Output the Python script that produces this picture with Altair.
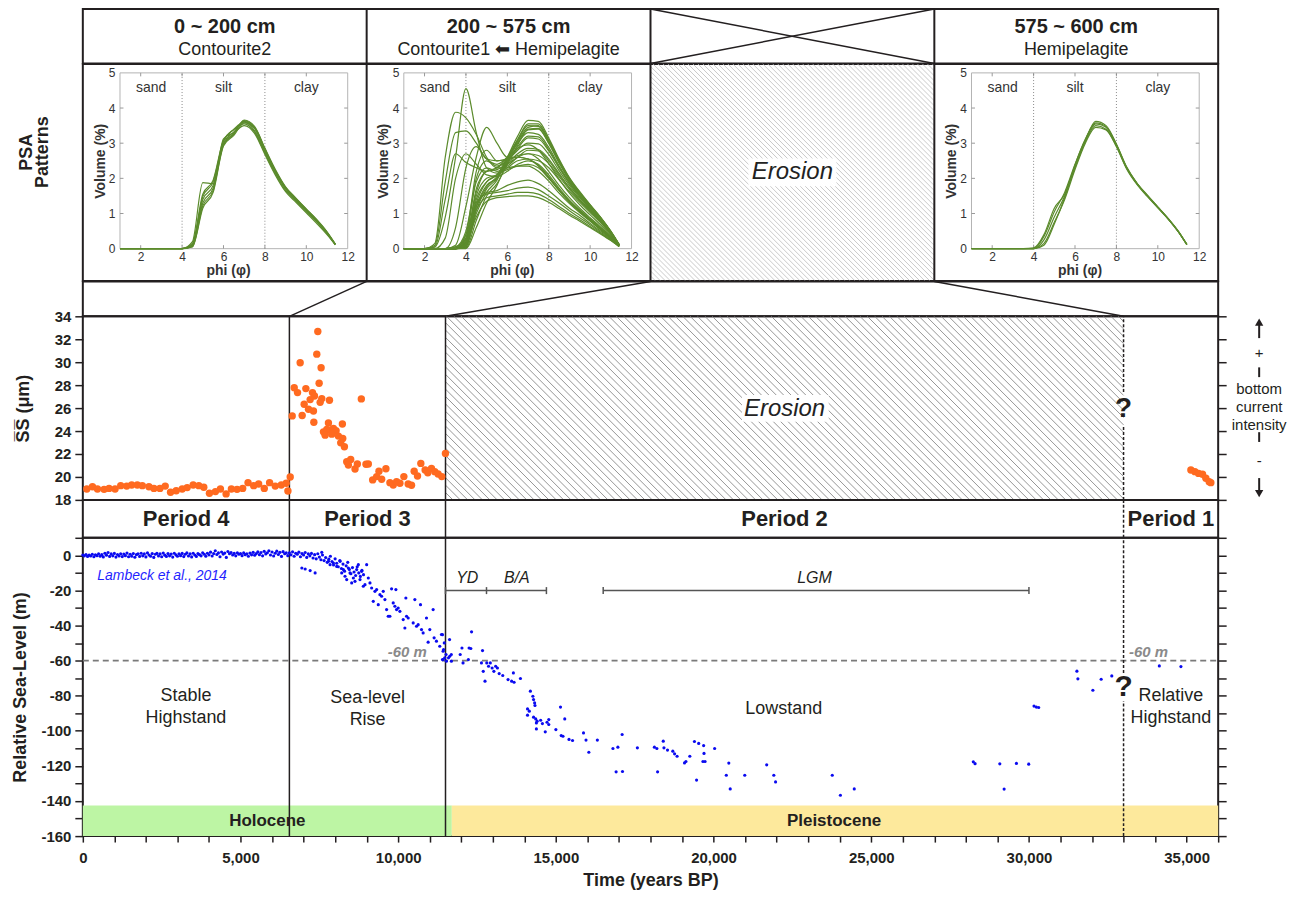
import altair as alt
import pandas as pd

FONT = "Liberation Sans"
INK = "#231f20"
GREY = "#333333"
GREEN = "#5b8b2c"
ORANGE = "#ff6a20"
BLUE = "#0a0af0"
HOLO = "#bdf5a4"
PLEI = "#fde99c"

# ---------------- layout (px) ----------------
W = 1138.0
COL_W = W / 4
H_HEAD, H_CELL, H_STRIP, H_MID, H_PER, H_BOT = 54.5, 217.5, 35.0, 184.0, 38.0, 299.0
T_DOMAIN = [0, 36000]
SS_DOMAIN = [18, 34]
RSL_DOMAIN = [-160, 10]

# PSA plot box inside one top cell (px from the cell's left / top)
P_L, P_R, P_T, P_B = 37.25, 265.5, 9.0, 185.2
PHI_RANGE = [1, 12]
VOL_RANGE = [0, 5]
KX = (P_R - P_L) / (PHI_RANGE[1] - PHI_RANGE[0])
KY = (P_B - P_T) / (VOL_RANGE[1] - VOL_RANGE[0])
PHI_DOM = [PHI_RANGE[0] - P_L / KX, PHI_RANGE[1] + (COL_W - P_R) / KX]
SPAN = COL_W / KX
VOL_DOM = [VOL_RANGE[0] - (H_CELL - P_B) / KY, VOL_RANGE[1] + P_T / KY]

# ---------------- header texts ----------------
HEAD_COL = [0.5, 1.5, 3.5]
HEAD_DEPTH = ["0 ~ 200 cm", "200 ~ 575 cm", "575 ~ 600 cm"]
HEAD_FACIES = ["Contourite2", "Contourite1 \u2B05 Hemipelagite", "Hemipelagite"]

# ---------------- PSA curves ----------------
PHI = [1.0, 2.0, 2.5, 3.0, 3.5, 4.0, 4.5, 5.0, 5.5, 6.0, 6.5, 7.0, 7.5, 8.0, 8.5, 9.0, 9.5, 10.0, 10.5, 11.0, 11.4]
PHI_TICKS = [2, 4, 6, 8, 10, 12]
VOL_TICKS = [0, 1, 2, 3, 4, 5]
CLASS_BOUNDS = [4, 8]
CLASS_NAMES = ["sand", "silt", "clay"]
CLASS_POS = [2.5, 6, 10]
CLASS_LEVEL = 4.57

Z6 = [0, 0, 0, 0, 0, 0]
Z5 = [0, 0, 0, 0, 0]
PSA_0_200 = [
    Z6 + [0.10, 1.40, 1.80, 3.00, 3.32, 3.62, 3.42, 2.80, 2.20, 1.72, 1.40, 1.10, 0.80, 0.46, 0.12],
    Z6 + [0.15, 1.55, 1.95, 3.08, 3.38, 3.55, 3.32, 2.72, 2.14, 1.66, 1.35, 1.05, 0.76, 0.43, 0.12],
    Z6 + [0.06, 1.22, 1.65, 2.95, 3.26, 3.66, 3.48, 2.86, 2.26, 1.76, 1.44, 1.13, 0.83, 0.48, 0.13],
    Z6 + [0.20, 1.88, 1.85, 3.12, 3.30, 3.50, 3.28, 2.68, 2.10, 1.62, 1.32, 1.02, 0.72, 0.40, 0.11],
    Z6 + [0.05, 1.15, 1.60, 2.92, 3.22, 3.58, 3.44, 2.84, 2.22, 1.74, 1.42, 1.12, 0.82, 0.46, 0.12],
    Z6 + [0.12, 1.48, 1.90, 3.05, 3.40, 3.60, 3.36, 2.76, 2.18, 1.70, 1.38, 1.08, 0.78, 0.44, 0.12],
    Z6 + [0.08, 1.30, 1.72, 2.98, 3.28, 3.64, 3.45, 2.82, 2.23, 1.73, 1.41, 1.11, 0.81, 0.47, 0.13],
]
PSA_200_575 = [
    [0, 0, 0.05, 0.9, 2.6, 4.55, 3.3, 2.3, 2.15, 2.25, 2.35, 2.4, 2.3, 2.0, 1.65, 1.32, 1.05, 0.8, 0.55, 0.3, 0.07],
    [0, 0, 0.15, 2.6, 3.88, 3.72, 3.25, 2.6, 2.3, 2.3, 2.35, 2.35, 2.2, 1.92, 1.58, 1.28, 1.02, 0.78, 0.54, 0.3, 0.07],
    [0, 0, 0.1, 1.9, 3.3, 3.35, 3.0, 2.55, 2.5, 2.55, 2.6, 2.55, 2.35, 2.02, 1.66, 1.34, 1.07, 0.82, 0.57, 0.32, 0.08],
    [0, 0, 0.05, 1.4, 2.7, 2.45, 2.3, 2.2, 2.3, 2.5, 2.65, 2.7, 2.55, 2.2, 1.8, 1.45, 1.15, 0.88, 0.62, 0.34, 0.08],
    [0, 0, 0, 0, 0.6, 2.3, 2.9, 2.55, 2.4, 2.6, 2.85, 2.95, 2.8, 2.42, 1.98, 1.58, 1.25, 0.96, 0.68, 0.37, 0.09],
    [0, 0, 0, 0, 0.1, 1.2, 2.6, 3.45, 3.0, 2.6, 2.6, 2.55, 2.38, 2.05, 1.68, 1.36, 1.08, 0.83, 0.58, 0.32, 0.08],
    [0, 0, 0, 0.3, 2.0, 2.7, 2.4, 2.1, 2.05, 2.2, 2.4, 2.5, 2.4, 2.1, 1.72, 1.38, 1.1, 0.85, 0.6, 0.33, 0.08],
    [0, 0, 0, 0, 0.05, 0.3, 1.2, 1.6, 1.65, 1.8, 1.9, 1.95, 1.85, 1.65, 1.4, 1.15, 0.95, 0.72, 0.5, 0.28, 0.07],
    [0, 0, 0, 0, 0.02, 0.4, 1.3, 1.55, 1.6, 1.65, 1.72, 1.75, 1.68, 1.5, 1.3, 1.08, 0.88, 0.68, 0.47, 0.26, 0.06],
    [0, 0, 0, 0, 0, 0.2, 1.1, 1.45, 1.5, 1.55, 1.6, 1.6, 1.55, 1.4, 1.2, 1.0, 0.82, 0.63, 0.44, 0.24, 0.06],
    [0, 0, 0, 0, 0, 0.15, 0.9, 1.35, 1.45, 1.48, 1.5, 1.5, 1.45, 1.32, 1.14, 0.95, 0.78, 0.6, 0.42, 0.23, 0.06],
    [0, 0, 0, 0, 0, 0.05, 1.1, 1.7, 2.0, 2.6, 3.2, 3.65, 3.62, 3.15, 2.55, 2.02, 1.62, 1.25, 0.9, 0.5, 0.12],
    [0, 0, 0, 0, 0, 0.1, 1.4, 1.9, 2.1, 2.6, 3.1, 3.5, 3.48, 3.05, 2.48, 1.98, 1.58, 1.22, 0.88, 0.48, 0.11],
    [0, 0, 0, 0, 0, 0.02, 0.8, 1.5, 1.85, 2.4, 2.95, 3.4, 3.42, 3.0, 2.45, 1.95, 1.56, 1.2, 0.86, 0.47, 0.11],
    [0, 0, 0, 0, 0, 0.2, 1.7, 2.2, 2.3, 2.6, 3.0, 3.3, 3.25, 2.88, 2.36, 1.9, 1.52, 1.17, 0.84, 0.46, 0.11],
    [0, 0, 0, 0, 0, 0.05, 1.2, 1.8, 2.0, 2.45, 2.85, 3.15, 3.12, 2.78, 2.3, 1.85, 1.48, 1.14, 0.82, 0.45, 0.1],
    [0, 0, 0, 0, 0, 0.3, 2.0, 2.5, 2.35, 2.5, 2.8, 3.0, 2.98, 2.68, 2.22, 1.8, 1.45, 1.12, 0.8, 0.44, 0.1],
    [0, 0, 0, 0, 0, 0.1, 1.3, 1.9, 2.1, 2.4, 2.7, 2.85, 2.82, 2.55, 2.14, 1.74, 1.4, 1.09, 0.78, 0.43, 0.1],
    [0, 0, 0, 0, 0, 0.25, 1.6, 2.2, 2.25, 2.4, 2.6, 2.7, 2.65, 2.42, 2.05, 1.68, 1.36, 1.06, 0.76, 0.42, 0.1],
    [0, 0, 0, 0, 0, 0.15, 1.5, 2.0, 2.1, 2.3, 2.5, 2.55, 2.5, 2.3, 1.96, 1.62, 1.32, 1.03, 0.74, 0.41, 0.1],
    [0, 0, 0, 0, 0, 0.0, 0.6, 1.3, 1.8, 2.5, 3.1, 3.55, 3.55, 3.1, 2.52, 2.0, 1.6, 1.24, 0.89, 0.49, 0.12],
    [0, 0, 0, 0, 0, 0.4, 2.2, 2.8, 2.5, 2.55, 2.9, 3.2, 3.18, 2.82, 2.32, 1.88, 1.5, 1.16, 0.83, 0.46, 0.11],
    [0, 0, 0, 0, 0, 0.08, 1.0, 1.6, 1.95, 2.55, 3.05, 3.45, 3.5, 3.08, 2.5, 1.99, 1.59, 1.23, 0.88, 0.48, 0.11],
    [0, 0, 0, 0, 0.05, 0.5, 1.9, 2.3, 2.2, 2.35, 2.6, 2.8, 2.78, 2.5, 2.1, 1.72, 1.39, 1.08, 0.77, 0.43, 0.1],
    [0, 0, 0, 0, 0, 0.12, 1.2, 1.75, 2.05, 2.5, 3.0, 3.38, 3.4, 3.0, 2.44, 1.95, 1.56, 1.21, 0.87, 0.48, 0.11],
]
PSA_575_600 = [
    Z5 + [0, 0.35, 1.05, 1.60, 2.40, 3.10, 3.55, 3.45, 2.95, 2.30, 1.85, 1.50, 1.18, 0.85, 0.48, 0.12],
    Z5 + [0, 0.25, 0.90, 1.50, 2.30, 3.05, 3.50, 3.40, 2.92, 2.28, 1.84, 1.50, 1.18, 0.85, 0.48, 0.12],
    Z5 + [0, 0.15, 0.75, 1.40, 2.25, 3.00, 3.45, 3.38, 2.90, 2.26, 1.82, 1.48, 1.16, 0.84, 0.47, 0.12],
    Z5 + [0.02, 0.40, 1.15, 1.55, 2.35, 3.08, 3.62, 3.50, 2.98, 2.32, 1.86, 1.52, 1.19, 0.86, 0.49, 0.12],
    Z5 + [0, 0.10, 0.70, 1.45, 2.38, 3.12, 3.58, 3.47, 2.96, 2.30, 1.85, 1.50, 1.17, 0.85, 0.48, 0.12],
]

# ---------------- time axis annotations ----------------
PERIOD_EDGES = [6550, 11500, 33000]
PERIOD_NAMES = ["Period 4", "Period 3", "Period 2", "Period 1"]
PERIOD_CENTERS = [3275, 9025, 22250, 34500]
CELL_EDGES_T = [9000, 18000, 27000]

EPOCH_NAMES = ["Holocene", "Pleistocene"]
EPOCH_START = [0, 11700]
EPOCH_END = [11700, 36000]
EPOCH_COLORS = [HOLO, PLEI]
EPOCH_LABEL_T = [5850, 23820]
EPOCH_BAND = [-160, -142.5]

INT_NAMES = ["YD", "B/A", "LGM"]
INT_START = [11500, 12800, 16500]
INT_END = [12800, 14700, 30000]
INT_LABEL_T = [12190, 13760, 23200]
INT_LEVEL = -20.1
INT_LABEL_LEVEL = -12.9

LEVEL_REF = -60
LEVEL_LABEL_T = [10290, 33790]

STAGE_TEXT = ["Stable", "Highstand", "Sea-level", "Rise", "Lowstand", "Relative", "Highstand"]
STAGE_T = [3270, 3270, 9030, 9030, 22225, 34500, 34500]
STAGE_V = [-79.9, -92.8, -81.2, -94.0, -87.3, -79.9, -92.6]

# ---------------- sortable silt mean size (SS, um) ----------------
SS_PERIOD4 = [(126, 18.95), (306, 19.15), (464, 18.95), (674, 18.92), (832, 19.0), (1022, 18.95), (1201, 19.24),
              (1391, 19.2), (1549, 19.3), (1728, 19.3), (1887, 19.24), (2097, 19.15), (2255, 19.0), (2445, 19.0),
              (2613, 19.2), (2782, 18.66), (2961, 18.8), (3151, 18.95), (3309, 19.07), (3499, 19.3), (3678, 19.24),
              (3836, 19.1), (4015, 18.58), (4205, 18.72), (4363, 18.95), (4543, 18.52), (4711, 18.95), (4890, 18.92),
              (5069, 19.0), (5238, 19.5), (5417, 19.24), (5575, 19.38), (5754, 19.0), (5922, 19.5), (6102, 19.2),
              (6292, 19.3), (6450, 19.45), (6503, 18.78), (6576, 20.0)]
SS_PERIOD3 = [(7451, 32.67), (7419, 30.7), (6892, 29.95), (7556, 29.52), (7493, 28.16), (6703, 27.78), (6808, 27.35),
              (7072, 27.7), (7282, 27.35), (7345, 27.06), (7208, 26.74), (7577, 26.83), (7820, 26.68), (7525, 26.5),
              (7019, 26.33), (7156, 25.9), (7313, 25.75), (6639, 25.32), (6955, 25.35), (7325, 24.77), (7788, 24.71),
              (8230, 24.62), (7630, 23.93), (7736, 24.14), (7841, 24.08), (7946, 24.22), (8030, 24.02), (7683, 23.64),
              (7894, 23.73), (8104, 23.56), (8241, 23.35), (8178, 22.97), (8294, 22.63), (8831, 26.8), (8368, 21.33),
              (8494, 21.53), (8420, 21.04), (8631, 20.69), (8705, 21.13), (8979, 21.1), (9053, 21.13), (9190, 19.74),
              (9317, 20.03), (9390, 20.49), (9611, 20.72), (9475, 19.8), (9738, 19.5), (9843, 19.3), (9949, 19.59),
              (10054, 19.45), (10180, 20.03), (10317, 19.39), (10422, 19.27), (10507, 20.49), (10612, 20.08),
              (10718, 21.18), (10854, 20.6), (10939, 20.37), (11055, 20.75), (11160, 20.46), (11265, 20.26),
              (11382, 20.03), (11498, 22.05)]
SS_PERIOD1 = [(35135, 20.6), (35262, 20.46), (35378, 20.31), (35504, 20.23), (35610, 19.88), (35715, 19.59), (35768, 19.5)]
SS_TICKS = list(range(18, 35, 2))

# ---------------- relative sea level (Lambeck et al., 2014) ----------------
RSL_HOLOCENE = [(0, 0.2), (50, -0.3), (100, 0.5), (150, -0.6), (200, 0.1), (250, -0.4), (300, 0.6), (350, -0.8),
                (400, 0.3), (450, -0.2), (500, 0.9), (550, -0.5), (600, 0.4), (650, -0.9), (700, 1.2), (750, 0.1),
                (800, 1.6), (850, -0.6), (900, 0.8), (950, -0.3), (1000, 1.1), (1050, -1.0), (1100, 0.5), (1150, -0.4),
                (1200, 0.9), (1250, -0.7), (1300, 0.7), (1350, -0.2), (1400, 1.3), (1450, -0.8), (1500, 0.6),
                (1550, -0.5), (1600, 1.0), (1650, -1.1), (1700, 0.4), (1750, 0.9), (1800, -0.6), (1850, 1.2),
                (1900, -0.3), (1950, 0.8), (2000, -0.9), (2050, 1.4), (2100, 0.2), (2150, -0.5), (2200, 1.0),
                (2250, -1.2), (2300, 0.6), (2350, 1.1), (2400, -0.4), (2450, 0.8), (2500, -0.8), (2550, 1.3),
                (2600, 0.1), (2650, -0.6), (2700, 1.0), (2750, -0.3), (2800, 0.7), (2850, -1.0), (2900, 1.2),
                (2950, 0.3), (3000, -0.5), (3050, 0.9), (3100, -0.2), (3150, 1.1), (3200, -0.7), (3250, 0.6),
                (3300, 1.4), (3350, -0.4), (3400, 0.8), (3450, -0.9), (3500, 1.2), (3550, 0.2), (3600, -0.6),
                (3650, 1.0), (3700, 0.4), (3750, -0.3), (3800, 1.5), (3850, 0.6), (3900, -0.5), (3950, 1.2),
                (4000, 0.3), (4050, 1.8), (4100, -0.4), (4150, 1.0), (4200, 2.6), (4250, 0.5), (4300, 1.4),
                (4350, -0.8), (4400, 1.9), (4450, 0.7), (4500, 1.3), (4550, -1.2), (4600, 2.2), (4650, 0.9),
                (4700, 1.6), (4750, 0.2), (4800, 1.1), (4850, -0.3), (4900, 1.5), (4950, 0.6), (5000, 1.0),
                (5050, -0.2), (5100, 1.4), (5150, 0.4), (5200, 0.9), (5250, -0.5), (5300, 1.3), (5350, 0.3),
                (5400, 1.7), (5450, 0.1), (5500, 1.0), (5550, 2.0), (5600, 0.4), (5650, 1.6), (5700, -0.3),
                (5750, 2.3), (5800, 0.8), (5850, 1.5), (5900, 2.6), (5950, 0.2), (6000, 1.9), (6050, -0.4),
                (6100, 1.2), (6150, 2.4), (6200, 0.5), (6250, 1.7), (6300, -0.6), (6350, 2.1), (6400, 0.9),
                (6450, 1.4), (6500, -0.2)]
RSL_RISE = [(6550, 1.5), (6600, 0.3), (6650, 2.0), (6700, -0.5), (6750, 1.2), (6800, 0.6), (6850, 1.8), (6900, -0.8),
            (6950, 1.0), (7000, 0.2), (7050, 1.6), (7100, -1.2), (7150, 0.8), (7200, -0.3), (7250, 1.1), (7300, -1.5),
            (7350, 0.4), (7400, -2.0), (7450, 0.9), (7500, -1.0), (7550, -2.5), (7600, 0.2), (7650, -3.0),
            (7700, -1.3), (7750, -4.0), (7800, -2.2), (7850, -0.5), (7900, -3.5), (7950, -5.5), (8000, -2.0),
            (8050, -4.5), (8100, -6.5), (8150, -3.0), (8200, -7.5), (8250, -5.0), (8300, -9.0), (8350, -6.0),
            (8400, -4.0), (8450, -8.0), (8500, -10.5), (8550, -7.0), (8600, -9.5), (8650, -11.5), (8700, -6.5),
            (8750, -10.0), (8800, -12.0), (8850, -8.5), (8900, -11.0),
            (6945, -7.2), (7050, -7.8), (7208, -8.7), (7366, -10.0), (7577, 1.7), (7788, -3.4), (7840, -5.3),
            (7946, -4.4), (8051, -6.3), (8157, -3.4), (8209, -10.0), (8262, -8.1), (8314, -11.9), (8367, -13.8),
            (8420, -7.2), (8472, -10.0), (8525, -15.7), (8578, -12.9), (8630, -14.8), (8683, -8.1), (8736, -5.3),
            (8789, -13.8), (8841, -9.1), (8894, -17.6), (8947, -16.7), (9000, -5.3), (9052, -12.9), (9105, -15.7),
            (9158, -18.6), (9210, -26.2), (9263, -20.5), (9316, -19.5), (9368, -28.1), (9421, -22.4),
            (9474, -23.3), (9526, -20.5), (9579, -25.2), (9632, -30.9), (9684, -34.7), (9737, -34.7),
            (9790, -19.1), (9842, -27.1), (9895, -29.0), (9927, -19.5), (9948, -30.9), (10000, -30.0),
            (10054, -31.9), (10159, -36.6), (10212, -41.4), (10243, -24.3), (10265, -34.7), (10317, -35.7),
            (10475, -38.5), (10528, -25.2), (10581, -40.4), (10633, -39.5), (10707, -28.1), (10739, -42.3),
            (10791, -44.2), (10897, -35.7), (10950, -49.5), (11002, -42.3), (11108, -30.9), (11139, -47.0),
            (11213, -48.9), (11318, -51.8), (11371, -45.1), (11424, -54.6), (11476, -58.4), (11529, -60.3),
            (11634, -57.5), (11687, -60.3), (11424, -59.4)]
RSL_DEGLACIAL = [(11404, -45.2), (11461, -49.9), (11438, -53.7), (11517, -56.5), (11629, -48.0), (11685, -56.5),
                 (11596, -58.4), (11404, -59.4), (11966, -56.5), (12022, -52.8), (12056, -61.3), (12225, -59.4),
                 (12247, -52.8), (12303, -53.1), (12326, -43.6), (12674, -54.3), (12640, -61.3), (12697, -66.1),
                 (12753, -71.7), (12809, -61.3), (12865, -63.2), (12921, -61.3), (12978, -64.2), (13034, -66.1),
                 (13090, -63.2), (13146, -64.2), (13202, -67.4), (13315, -68.5), (13483, -70.8), (13596, -71.7),
                 (13652, -67.0), (13674, -72.3), (13876, -70.2), (14191, -77.4), (14270, -80.3), (14292, -82.2),
                 (14326, -84.1), (14337, -85.6), (14101, -87.5), (14157, -88.8), (14101, -91.1), (14292, -92.2),
                 (14360, -93.2), (14382, -95.5), (14405, -94.5), (14517, -94.0), (14573, -95.9), (14663, -100.6),
                 (14719, -95.1), (14775, -93.6), (14775, -96.4), (14382, -98.9), (15000, -99.3), (15146, -86.5),
                 (15169, -102.7), (15225, -103.1), (15281, -93.2), (15416, -104.9), (15528, -105.5),
                 (15876, -101.2), (15955, -105.3), (16045, -112.2), (16315, -105.3), (16809, -110.1),
                 (16966, -109.3), (16910, -123.4), (17101, -102.1), (17112, -123.2), (17584, -109.7),
                 (18124, -109.3), (18202, -110.1), (18225, -123.4), (18405, -105.9), (18427, -109.7),
                 (18539, -111.0), (18708, -111.6), (18764, -113.1), (18843, -114.5), (19079, -118.3),
                 (19124, -117.5), (19247, -114.5), (19393, -106.1), (19461, -128.1), (19528, -107.2),
                 (19685, -108.4), (19697, -112.9), (19663, -117.5), (19730, -117.5), (20034, -110.1),
                 (20404, -125.3), (20483, -118.4), (20528, -133.1), (20989, -125.3), (21685, -119.4),
                 (21910, -125.3), (21966, -129.1), (23764, -125.3), (24022, -136.7), (24461, -133.1),
                 (28236, -117.7), (28292, -118.7)]
RSL_GLACIAL = [(29076, -118.8), (29603, -118.6), (29993, -119.0), (29213, -133.2), (30161, -85.9), (30235, -86.5),
               (30309, -86.7), (31521, -66.0), (31552, -70.4), (32027, -76.9), (32290, -70.6), (32627, -68.7),
               (34134, -63.0), (34819, -63.4)]
RSL_TICKS = list(range(-160, 11, 10))
T_TICKS = list(range(0, 36001, 1000))


def hatch_segments(x0, x1, y0, y1, wpx, hpx, step):
    """45-degree hatching (top-left to bottom-right) clipped to a box, in data units."""
    rows = []
    c = -hpx
    while c < wpx:
        xa, xb = max(0.0, c), min(wpx, c + hpx)
        if xb - xa > 0.5:
            rows.append({"t": x0 + xa / wpx * (x1 - x0), "t2": x0 + xb / wpx * (x1 - x0),
                         "v": y1 - (xa - c) / hpx * (y1 - y0), "v2": y1 - (xb - c) / hpx * (y1 - y0)})
        c += step
    return pd.DataFrame(rows)


# ======================= header row =======================
HX = alt.Scale(domain=[0, 4], nice=False, zero=False)
HY = alt.Scale(domain=[0, 1], nice=False, zero=False)
head_df = pd.DataFrame({"c": HEAD_COL, "depth": HEAD_DEPTH, "facies": HEAD_FACIES,
                        "y1": [0.665] * 3, "y2": [0.245] * 3})
h_depth = alt.Chart(head_df).mark_text(fontSize=20, fontWeight="bold", color=INK).encode(
    x=alt.X("c:Q", scale=HX, axis=None), y=alt.Y("y1:Q", scale=HY, axis=None), text="depth:N")
h_fac = alt.Chart(head_df).mark_text(fontSize=18, color=INK).encode(
    x=alt.X("c:Q", scale=HX, axis=None), y=alt.Y("y2:Q", scale=HY, axis=None), text="facies:N")
h_sep = alt.Chart(pd.DataFrame({"c": [1, 2, 3]})).mark_rule(color=INK, strokeWidth=2).encode(
    x=alt.X("c:Q", scale=HX, axis=None))
h_cross = alt.Chart(pd.DataFrame({"c": [2, 2], "c2": [3, 3], "y": [0, 1], "y2": [1, 0]})).mark_rule(
    color=INK, strokeWidth=1.5).encode(
    x=alt.X("c:Q", scale=HX, axis=None), x2="c2:Q", y=alt.Y("y:Q", scale=HY, axis=None), y2="y2:Q")
header = alt.layer(h_sep, h_cross, h_depth, h_fac).properties(width=W, height=H_HEAD)

# ======================= PSA cells (one layer per cell, independent scales) =======================
PYS = alt.Scale(domain=VOL_DOM, nice=False, zero=False)


def psa_layer(curves, col, first=False):
    d0 = PHI_DOM[0] - col * SPAN
    xs = alt.Scale(domain=[d0, d0 + 4 * SPAN], nice=False, zero=False)
    xax = alt.Axis(orient="bottom", offset=-(H_CELL - P_B), values=PHI_TICKS, domain=False, ticks=False,
                   grid=False, labelFontSize=12, labelColor=GREY, labelPadding=3, labelFlush=False,
                   labelOverlap=False, title="phi (\u03c6)", titleFontSize=14, titleFontWeight="bold",
                   titleColor=GREY, titleX=col * COL_W + 145.5, titleY=15, titleBaseline="top",
                   titleAlign="center")
    yax = alt.Axis(orient="left", offset=-(col * COL_W + P_L), values=VOL_TICKS, domain=False, ticks=False,
                   grid=False, labelFontSize=12, labelColor=GREY, labelPadding=5, labelOverlap=False,
                   title="Volume (%)", titleFontSize=14, titleFontWeight="bold", titleColor=GREY,
                   titleX=-13, titleY=(P_T + P_B) / 2, titleAngle=270, titleBaseline="bottom",
                   titleAlign="center")

    def px():
        return alt.X("phi:Q", scale=xs, axis=xax)

    def py():
        return alt.Y("vol:Q", scale=PYS, axis=yax)

    rows = [{"curve": k, "phi": p, "vol": v} for k, vals in enumerate(curves) for p, v in zip(PHI, vals)]
    df = pd.DataFrame(rows)
    box = alt.Chart(pd.DataFrame({"phi": [PHI_RANGE[0]], "phi2": [PHI_RANGE[1]], "vol": [VOL_RANGE[0]],
                                  "vol2": [VOL_RANGE[1]]})).mark_rect(
        fillOpacity=0, stroke="#b4b4b4", strokeWidth=1).encode(x=px(), x2="phi2:Q", y=py(), y2="vol2:Q")
    # inward tick marks on the plot box
    tx = [p for p in PHI_TICKS if PHI_RANGE[0] < p < PHI_RANGE[1]]
    ty = [v for v in VOL_TICKS if VOL_RANGE[0] < v < VOL_RANGE[1]]
    tlen_v = 3.5 / KY
    tlen_p = 3.5 / KX
    ticks_x = alt.Chart(pd.DataFrame({
        "phi": tx * 2,
        "vol": [VOL_RANGE[0]] * len(tx) + [VOL_RANGE[1]] * len(tx),
        "vol2": [VOL_RANGE[0] + tlen_v] * len(tx) + [VOL_RANGE[1] - tlen_v] * len(tx)})).mark_rule(
        color="#9a9a9a", strokeWidth=1).encode(x=px(), y=py(), y2="vol2:Q")
    ticks_y = alt.Chart(pd.DataFrame({
        "vol": ty * 2,
        "phi": [PHI_RANGE[0]] * len(ty) + [PHI_RANGE[1]] * len(ty),
        "phi2": [PHI_RANGE[0] + tlen_p] * len(ty) + [PHI_RANGE[1] - tlen_p] * len(ty)})).mark_rule(
        color="#9a9a9a", strokeWidth=1).encode(x=px(), x2="phi2:Q", y=py())
    cls = alt.Chart(pd.DataFrame({"phi": CLASS_BOUNDS, "vol": [VOL_RANGE[0]] * 2,
                                  "vol2": [VOL_RANGE[1]] * 2})).mark_rule(
        color="#8c8c8c", strokeWidth=1, strokeDash=[1, 2]).encode(x=px(), y=py(), y2="vol2:Q")
    cls_t = alt.Chart(pd.DataFrame({"phi": CLASS_POS, "vol": [CLASS_LEVEL] * 3, "s": CLASS_NAMES})).mark_text(
        fontSize=14, color=GREY).encode(x=px(), y=py(), text="s:N")
    lines = alt.Chart(df).mark_line(color=GREEN, strokeWidth=1.2, interpolate="monotone").encode(
        x=px(), y=py(), detail="curve:N")
    layers = [box, ticks_x, ticks_y, cls, cls_t, lines]
    if first:
        lab = alt.Chart(pd.DataFrame({"phi": [PHI_DOM[0] - 56 / KX],
                                      "vol": [VOL_DOM[1] - (152 - 63.5) / KY]})).mark_text(
            text=["PSA", "Patterns"], angle=270, fontSize=18, fontWeight="bold", color=INK, lineHeight=16).encode(
            x=px(), y=py())
        layers.append(lab)
    return alt.layer(*layers)


EXS = alt.Scale(domain=[0, 4], nice=False, zero=False)
EYS = alt.Scale(domain=[0, 1], nice=False, zero=False)
ero_top_h = hatch_segments(2, 3, 0, 1, COL_W, H_CELL, 5.0)
e_h = alt.Chart(ero_top_h).mark_rule(color="#bdbdbd", strokeWidth=0.8).encode(
    x=alt.X("t:Q", scale=EXS, axis=None), x2="t2:Q", y=alt.Y("v:Q", scale=EYS, axis=None), y2="v2:Q")
e_box = alt.Chart(pd.DataFrame({"t": [2.345], "t2": [2.655], "v": [0.436], "v2": [0.564]})).mark_rect(
    color="white").encode(x=alt.X("t:Q", scale=EXS, axis=None), x2="t2:Q",
                          y=alt.Y("v:Q", scale=EYS, axis=None), y2="v2:Q")
e_txt = alt.Chart(pd.DataFrame({"t": [2.5], "v": [0.5], "s": ["Erosion"]})).mark_text(
    fontSize=24, fontStyle="italic", color="#222").encode(
    x=alt.X("t:Q", scale=EXS, axis=None), y=alt.Y("v:Q", scale=EYS, axis=None), text="s:N")
e_sep = alt.Chart(pd.DataFrame({"t": [1, 2, 3]})).mark_rule(color=INK, strokeWidth=2).encode(
    x=alt.X("t:Q", scale=EXS, axis=None))
ero_layer = alt.layer(e_h, e_box, e_txt, e_sep)

cells = alt.layer(psa_layer(PSA_0_200, 0, first=True), psa_layer(PSA_200_575, 1), ero_layer,
                  psa_layer(PSA_575_600, 3)).resolve_scale(x="independent", y="independent").properties(
    width=W, height=H_CELL)

# ======================= connecting strip =======================
TS = alt.Scale(domain=T_DOMAIN, nice=False, zero=False)
strip_df = pd.DataFrame({"t": CELL_EDGES_T, "t2": PERIOD_EDGES, "v": [1, 1, 1], "v2": [0, 0, 0]})
strip = alt.Chart(strip_df).mark_rule(color=INK, strokeWidth=1.5).encode(
    x=alt.X("t:Q", scale=TS, axis=None), x2="t2:Q",
    y=alt.Y("v:Q", scale=alt.Scale(domain=[0, 1], nice=False), axis=None), y2="v2:Q").properties(
    width=W, height=H_STRIP)

# ======================= SS chart =======================
MS = alt.Scale(domain=SS_DOMAIN, nice=False, zero=False)
mid_yaxis = alt.Axis(orient="left", values=SS_TICKS, grid=False, domain=False, tickSize=8, tickColor=INK,
                     tickWidth=1.5, labelFontSize=15, labelFontWeight="bold", labelColor=INK, labelPadding=4,
                     labelOverlap=False, title="S\u0305S\u0305 (\u03bcm)", titleFontSize=18,
                     titleFontWeight="bold", titleColor=INK, titlePadding=22)


def mx():
    return alt.X("t:Q", scale=TS, axis=None)


def my():
    return alt.Y("v:Q", scale=MS, axis=mid_yaxis)


wpx_ero = (PERIOD_EDGES[2] - PERIOD_EDGES[1]) / (T_DOMAIN[1] - T_DOMAIN[0]) * W
m_hatch = alt.Chart(hatch_segments(PERIOD_EDGES[1], PERIOD_EDGES[2], SS_DOMAIN[0], SS_DOMAIN[1],
                                   wpx_ero, H_MID, 7.4)).mark_rule(color="#8a8a8a", strokeWidth=0.9).encode(
    x=mx(), x2="t2:Q", y=my(), y2="v2:Q")
m_box = alt.Chart(pd.DataFrame({"t": [20900], "t2": [23650], "v": [24.8], "v2": [27.15]})).mark_rect(
    color="white").encode(x=mx(), x2="t2:Q", y=my(), y2="v2:Q")
m_ero = alt.Chart(pd.DataFrame({"t": [PERIOD_CENTERS[2]], "v": [25.95], "s": ["Erosion"]})).mark_text(
    fontSize=24, fontStyle="italic", color="#222").encode(x=mx(), y=my(), text="s:N")
m_vl = alt.Chart(pd.DataFrame({"t": PERIOD_EDGES[:2]})).mark_rule(color=INK, strokeWidth=1.5).encode(x=mx())
m_dash = alt.Chart(pd.DataFrame({"t": [PERIOD_EDGES[2]] * 2, "v": [18, 27.4], "v2": [24.5, 34]})).mark_rule(
    color=INK, strokeWidth=1.5, strokeDash=[3, 2]).encode(x=mx(), y=my(), y2="v2:Q")
m_q = alt.Chart(pd.DataFrame({"t": [PERIOD_EDGES[2]], "v": [25.95], "s": ["?"]})).mark_text(
    fontSize=28, fontWeight="bold", color=INK).encode(x=mx(), y=my(), text="s:N")
ss_df = pd.DataFrame(SS_PERIOD4 + SS_PERIOD3 + SS_PERIOD1, columns=["t", "v"])
m_pts = alt.Chart(ss_df).mark_circle(size=55, color=ORANGE, opacity=1).encode(x=mx(), y=my())

ANNOT_T = 37300
a_shaft = alt.Chart(pd.DataFrame({"t": [ANNOT_T] * 2, "v": [32.1, 18.75], "v2": [33.4, 19.9]})).mark_rule(
    color=INK, strokeWidth=2).encode(x=mx(), y=my(), y2="v2:Q")
a_up = alt.Chart(pd.DataFrame({"t": [ANNOT_T], "v": [33.5]})).mark_point(
    shape="triangle-up", filled=True, size=70, color=INK, opacity=1).encode(x=mx(), y=my())
a_dn = alt.Chart(pd.DataFrame({"t": [ANNOT_T], "v": [18.55]})).mark_point(
    shape="triangle-down", filled=True, size=70, color=INK, opacity=1).encode(x=mx(), y=my())
a_bars = alt.Chart(pd.DataFrame({"t": [ANNOT_T] * 2, "v": [28.7, 23.05], "v2": [29.55, 23.9]})).mark_rule(
    color=INK, strokeWidth=2).encode(x=mx(), y=my(), y2="v2:Q")
a_txt = alt.Chart(pd.DataFrame({"t": [ANNOT_T] * 5, "v": [30.8, 27.7, 26.1, 24.5, 21.4],
                                "s": ["+", "bottom", "current", "intensity", "-"]})).mark_text(
    fontSize=15, color=INK).encode(x=mx(), y=my(), text="s:N")

mid_inner = alt.layer(m_hatch, m_box, m_ero, m_vl, m_dash, m_q, m_pts, a_shaft, a_up, a_dn, a_bars, a_txt)
mid_right = alt.Chart(pd.DataFrame({"v": [SS_DOMAIN[0]]})).mark_point(opacity=0).encode(
    y=alt.Y("v:Q", scale=MS, axis=alt.Axis(orient="right", values=SS_TICKS, labels=False, grid=False,
                                           domain=False, tickSize=8, tickColor=INK, tickWidth=1.5, title="")))
mid = alt.layer(mid_inner, mid_right).resolve_scale(y="independent").properties(width=W, height=H_MID)

# ======================= period bar =======================
p_txt = alt.Chart(pd.DataFrame({"t": PERIOD_CENTERS, "s": PERIOD_NAMES})).mark_text(
    fontSize=22, fontWeight="bold", color=INK).encode(x=alt.X("t:Q", scale=TS, axis=None), text="s:N")
p_vl = alt.Chart(pd.DataFrame({"t": PERIOD_EDGES[:2]})).mark_rule(color=INK, strokeWidth=1.5).encode(
    x=alt.X("t:Q", scale=TS, axis=None))
p_dash = alt.Chart(pd.DataFrame({"t": PERIOD_EDGES[2:]})).mark_rule(
    color=INK, strokeWidth=1.5, strokeDash=[3, 2]).encode(x=alt.X("t:Q", scale=TS, axis=None))
period = alt.layer(p_vl, p_dash, p_txt).properties(width=W, height=H_PER)

# ======================= sea-level chart =======================
BS = alt.Scale(domain=RSL_DOMAIN, nice=False, zero=False)
bot_xaxis = alt.Axis(orient="bottom", values=T_TICKS, grid=False, domain=False, tickSize=6, tickColor=INK,
                     tickWidth=1.5, labelFontSize=15, labelFontWeight="bold", labelColor=INK, labelPadding=8,
                     labelFlush=False, labelOverlap=False,
                     labelExpr="datum.value % 5000 === 0 ? format(datum.value, ',') : ''",
                     title="Time (years BP)", titleFontSize=18, titleFontWeight="bold", titleColor=INK,
                     titlePadding=7)
bot_yaxis = alt.Axis(orient="left", values=RSL_TICKS, grid=False, domain=False, tickSize=8, tickColor=INK,
                     tickWidth=1.5, labelFontSize=15, labelFontWeight="bold", labelColor=INK, labelPadding=4,
                     labelOverlap=False, labelExpr="datum.value % 20 === 0 ? '' + datum.value : ''",
                     title="Relative Sea-Level (m)", titleFontSize=18, titleFontWeight="bold", titleColor=INK,
                     titlePadding=11)


def bx():
    return alt.X("t:Q", scale=TS, axis=bot_xaxis)


def by():
    return alt.Y("v:Q", scale=BS, axis=bot_yaxis)


epoch_df = pd.DataFrame({"t": EPOCH_START, "t2": EPOCH_END, "v": [EPOCH_BAND[0]] * 2, "v2": [EPOCH_BAND[1]] * 2,
                         "c": EPOCH_COLORS})
b_band = alt.Chart(epoch_df).mark_rect().encode(x=bx(), x2="t2:Q", y=by(), y2="v2:Q",
                                                color=alt.Color("c:N", scale=None))
b_band_t = alt.Chart(pd.DataFrame({"t": EPOCH_LABEL_T, "v": [sum(EPOCH_BAND) / 2] * 2, "s": EPOCH_NAMES})).mark_text(
    fontSize=17, fontWeight="bold", color=INK).encode(x=bx(), y=by(), text="s:N")
b_ref = alt.Chart(pd.DataFrame({"t": [T_DOMAIN[0]], "t2": [T_DOMAIN[1]], "v": [LEVEL_REF]})).mark_rule(
    color="#7a7a7a", strokeWidth=2, strokeDash=[6, 4]).encode(x=bx(), x2="t2:Q", y=by())
b_ref_t = alt.Chart(pd.DataFrame({"t": LEVEL_LABEL_T, "v": [LEVEL_REF + 5] * 2, "s": ["-60 m"] * 2})).mark_text(
    fontSize=15, fontWeight="bold", fontStyle="italic", color="#8a8a8a").encode(x=bx(), y=by(), text="s:N")
b_vl = alt.Chart(pd.DataFrame({"t": PERIOD_EDGES[:2]})).mark_rule(color=INK, strokeWidth=1.5).encode(x=bx())
b_dash = alt.Chart(pd.DataFrame({"t": [PERIOD_EDGES[2]] * 2, "v": [-160, -67], "v2": [-83, 10]})).mark_rule(
    color=INK, strokeWidth=1.5, strokeDash=[3, 2]).encode(x=bx(), y=by(), y2="v2:Q")
b_q = alt.Chart(pd.DataFrame({"t": [PERIOD_EDGES[2]], "v": [-75.3], "s": ["?"]})).mark_text(
    fontSize=30, fontWeight="bold", color=INK).encode(x=bx(), y=by(), text="s:N")
b_int = alt.Chart(pd.DataFrame({"t": INT_START, "t2": INT_END, "v": [INT_LEVEL] * 3})).mark_rule(
    color="#555555", strokeWidth=1.5).encode(x=bx(), x2="t2:Q", y=by())
caps = sorted(set(INT_START + INT_END))
b_caps = alt.Chart(pd.DataFrame({"t": caps, "v": [INT_LEVEL - 2.0] * len(caps),
                                 "v2": [INT_LEVEL + 2.0] * len(caps)})).mark_rule(
    color="#555555", strokeWidth=1.5).encode(x=bx(), y=by(), y2="v2:Q")
b_int_t = alt.Chart(pd.DataFrame({"t": INT_LABEL_T, "v": [INT_LABEL_LEVEL] * 3, "s": INT_NAMES})).mark_text(
    fontSize=16, fontStyle="italic", color=INK).encode(x=bx(), y=by(), text="s:N")
b_stage = alt.Chart(pd.DataFrame({"t": STAGE_T, "v": STAGE_V, "s": STAGE_TEXT})).mark_text(
    fontSize=18, color=INK).encode(x=bx(), y=by(), text="s:N")
b_src = alt.Chart(pd.DataFrame({"t": [460], "v": [-11.9], "s": ["Lambeck et al., 2014"]})).mark_text(
    fontSize=14, fontStyle="italic", color="#1f1fff", align="left").encode(x=bx(), y=by(), text="s:N")
rsl_df = pd.DataFrame(RSL_HOLOCENE + RSL_RISE + RSL_DEGLACIAL + RSL_GLACIAL, columns=["t", "v"])
b_pts = alt.Chart(rsl_df).mark_circle(size=10, color=BLUE, opacity=1).encode(x=bx(), y=by())

bot_inner = alt.layer(b_band, b_band_t, b_ref, b_ref_t, b_vl, b_dash, b_q, b_int, b_caps, b_int_t, b_stage,
                      b_src, b_pts)
bot_right = alt.Chart(pd.DataFrame({"v": [RSL_DOMAIN[0]]})).mark_point(opacity=0).encode(
    y=alt.Y("v:Q", scale=BS, axis=alt.Axis(orient="right", values=RSL_TICKS, labels=False, grid=False,
                                           domain=False, tickSize=8, tickColor=INK, tickWidth=1.5, title="")))
bottom = alt.layer(bot_inner, bot_right).resolve_scale(y="independent").properties(width=W, height=H_BOT)

# ======================= assemble =======================
chart = alt.vconcat(header, cells, strip, mid, period, bottom, spacing=0, bounds="flush").properties(
    padding={"left": 2, "right": 2, "top": -2, "bottom": 0}
).configure(font=FONT).configure_view(stroke=INK, strokeWidth=2).configure_axis(labelFont=FONT, titleFont=FONT)

chart.save("out.html", embed_options={"renderer": "svg", "actions": False})
